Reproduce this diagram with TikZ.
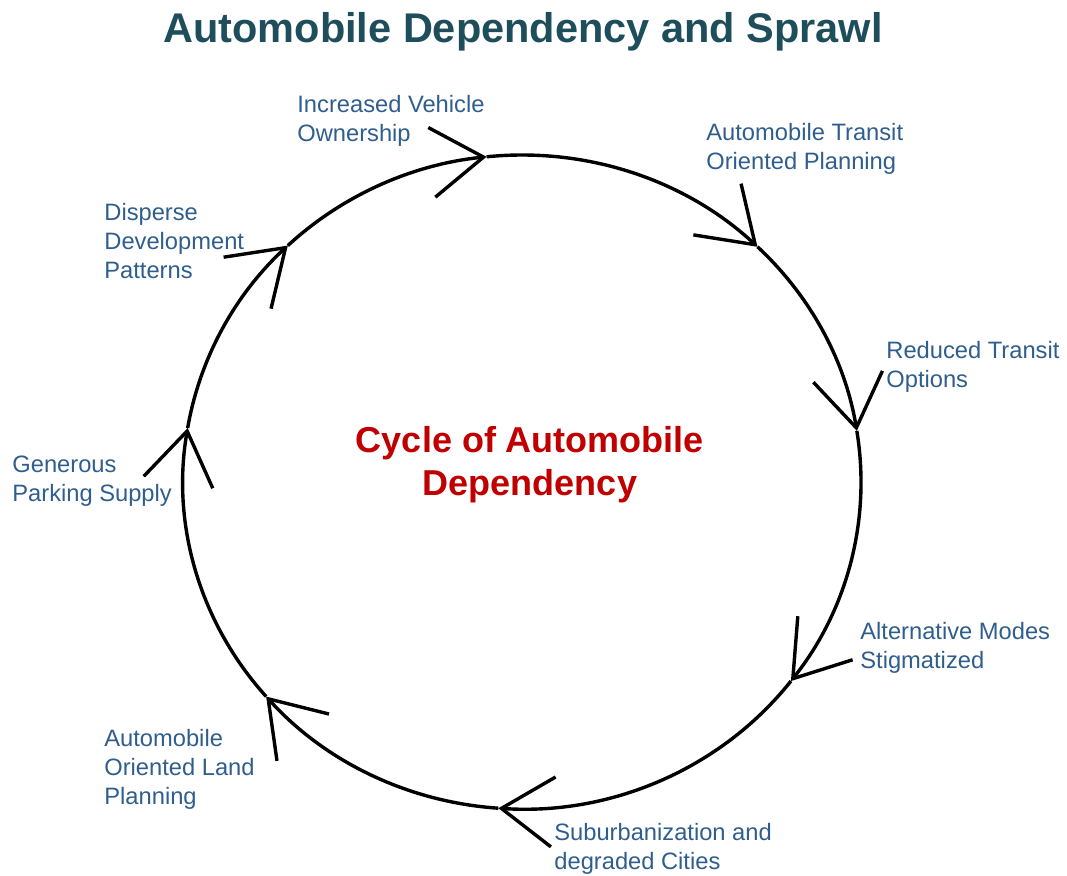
\documentclass[tikz,border=0pt]{standalone}
\usepackage{fontspec}
\setmainfont{Liberation Sans}
\usetikzlibrary{arrows.meta}
\definecolor{titleteal}{HTML}{1E4D5B}
\definecolor{labelblue}{HTML}{2F5E8E}
\definecolor{cyclered}{HTML}{C00000}
\tikzset{
	lbl/.style={anchor=north west,inner sep=0pt,align=left,text=labelblue,
		font=\fontsize{11.85}{14.5}\selectfont},
	cyc/.style={line width=1.7pt,-{Straight Barb[length=26pt,width=35pt,line width=1.7pt]}}
}
\begin{document}
\begin{tikzpicture}[x=0.5pt,y=0.5pt]
	\useasboundingbox (0,0) rectangle (1067,-875);
	\node[anchor=base,text=titleteal,font=\fontsize{20.75}{25}\bfseries] (title) at (523,-42) {Automobile Dependency and Sprawl};
	\node[align=center,text=cyclered,font=\fontsize{18}{21.5}\bfseries] (centre) at (530,-465) {Cycle of Automobile\\Dependency};
	% points of the cycle
	\coordinate (c) at (522,-482);
	\path (c) ++(96:169.5pt and 163.5pt) coordinate (own);
	\path (c) ++(46:169.5pt and 163.5pt) coordinate (plan);
	\path (c) ++(9:169.5pt and 163.5pt) coordinate (trans);
	\path (c) ++(-37.5:169.5pt and 163.5pt) coordinate (alt);
	\path (c) ++(-94:169.5pt and 163.5pt) coordinate (sub);
	\path (c) ++(-139:169.5pt and 163.5pt) coordinate (land);
	\path (c) ++(170.5:169.5pt and 163.5pt) coordinate (park);
	\path (c) ++(133.7:169.5pt and 163.5pt) coordinate (disp);
	\draw[cyc] (disp) arc[start angle=133.7,end angle=96,x radius=169.5pt,y radius=163.5pt];
	\draw[cyc] (own) arc[start angle=96,end angle=46,x radius=169.5pt,y radius=163.5pt];
	\draw[cyc] (plan) arc[start angle=46,end angle=9,x radius=169.5pt,y radius=163.5pt];
	\draw[cyc] (trans) arc[start angle=9,end angle=-37.5,x radius=169.5pt,y radius=163.5pt];
	\draw[cyc] (alt) arc[start angle=-37.5,end angle=-94,x radius=169.5pt,y radius=163.5pt];
	\draw[cyc] (sub) arc[start angle=-94,end angle=-139,x radius=169.5pt,y radius=163.5pt];
	\draw[cyc] (land) arc[start angle=-139,end angle=-189.5,x radius=169.5pt,y radius=163.5pt];
	\draw[cyc] (park) arc[start angle=170.5,end angle=133.7,x radius=169.5pt,y radius=163.5pt];
	% labels
	\node[lbl] (ownl) at (297,-95) {Increased Vehicle\\Ownership};
	\node[lbl] (planl) at (706,-123) {Automobile Transit\\Oriented Planning};
	\node[lbl] (transl) at (886,-341) {Reduced Transit\\Options};
	\node[lbl] (altl) at (860,-622) {Alternative Modes\\Stigmatized};
	\node[lbl] (subl) at (554,-823) {Suburbanization and\\degraded Cities};
	\node[lbl] (landl) at (104,-729) {Automobile\\Oriented Land\\Planning};
	\node[lbl] (parkl) at (12,-456) {Generous\\Parking Supply};
	\node[lbl] (displ) at (104,-203) {Disperse\\Development\\Patterns};
\end{tikzpicture}
\end{document}
